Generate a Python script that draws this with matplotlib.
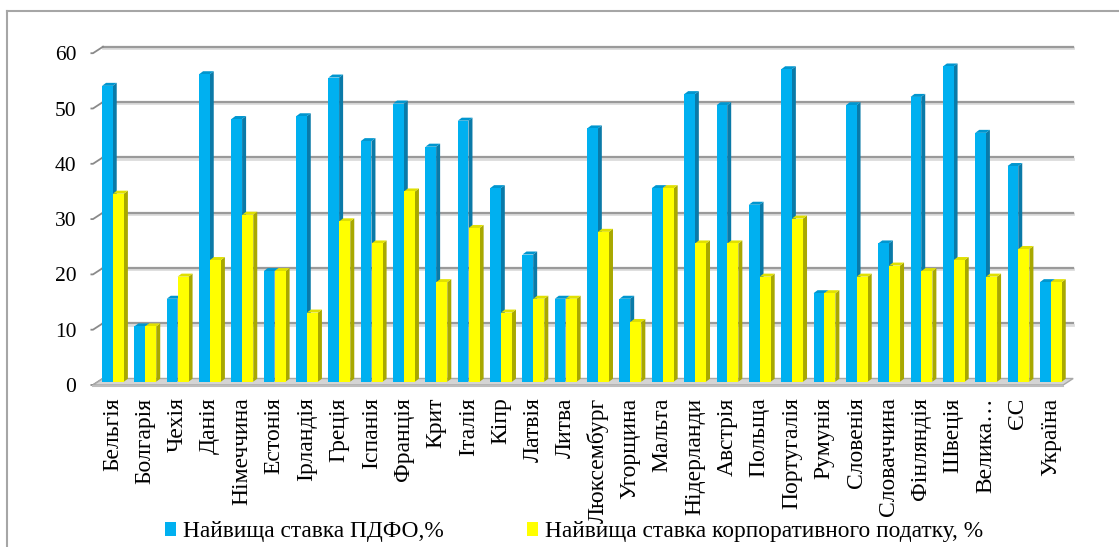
import matplotlib
matplotlib.use("Agg")
import matplotlib.pyplot as plt
from matplotlib.patches import Polygon, Patch
from matplotlib.lines import Line2D

SHRYFT = ['Liberation Serif', 'DejaVu Serif']
plt.rcParams['font.family'] = 'serif'
plt.rcParams['font.serif'] = SHRYFT

# країни та ставки податків
krainy = ['Бельгія', 'Болгарія', 'Чехія', 'Данія', 'Німеччина', 'Естонія',
          'Ірландія', 'Греція', 'Іспанія', 'Франція', 'Крит', 'Італія', 'Кіпр',
          'Латвія', 'Литва', 'Люксембург', 'Угорщина', 'Мальта', 'Нідерланди',
          'Австрія', 'Польща', 'Португалія', 'Румунія', 'Словенія',
          'Словаччина', 'Фінляндія', 'Швеція', 'Велика…', 'ЄС', 'Україна']
pdfo = [53.5, 10, 15, 55.6, 47.5, 20, 48, 55, 43.5, 50.3, 42.5, 47.2, 35,
        23, 15, 45.8, 15, 35, 52, 50, 32, 56.5, 16, 50, 25, 51.5, 57, 45, 39, 18]
korp = [34, 10, 19, 22, 30.2, 20, 12.5, 29, 25, 34.4, 18, 27.8, 12.5,
        15, 15, 27.1, 10.8, 35, 25, 25, 19, 29.5, 16, 19, 21, 20, 22, 19, 24, 18]
yticks = [0, 10, 20, 30, 40, 50, 60]
nazvy = ['Найвища ставка ПДФО,%', 'Найвища ставка корпоративного податку, %']

# кольори граней стовпців: перед, бік, верх
sinij = ('#00b0f0', '#0a7aa8', '#0096cf')
zhovtyj = ('#ffff00', '#a8a800', '#e0e000')

W, H = 1119, 547
fig = plt.figure(figsize=(W / 100, H / 100), dpi=100)
ax = fig.add_axes([93 / W, (H - 385) / H, (1080 - 93) / W, (385 - 40) / H])

px_x = 32.34          # пікселів на одну категорію
px_y = 5.53           # пікселів на одиницю
ax.set_xlim(-0.5, -0.5 + (1080 - 93) / px_x)
ax.set_ylim(0, 345 / px_y)

# глибина задньої стінки та стовпців
wall_dx, wall_dy = 10 / px_x, 6.5 / px_y
bar_dx, bar_dy = 4 / px_x, 3 / px_y
bar_y0 = 3.3 / px_y
n = len(krainy)
x = list(range(n))

# підлога
x0, x1 = -0.5, n - 0.5
ax.add_patch(Polygon([(x0, 0), (x1, 0), (x1 + wall_dx, wall_dy), (x0 + wall_dx, wall_dy)],
                     closed=True, facecolor='#d4d4d4', edgecolor='#a8a8a8', lw=1, zorder=1))
ax.plot([x0, x1], [-0.15, -0.15], color='#bdbdbd', lw=1.5, zorder=1, clip_on=False)

# лінії сітки на задній стінці і косі засічки
for v in yticks:
    if v > 0:
        ax.plot([x0 + wall_dx, x1 + wall_dx], [v + wall_dy - 0.25, v + wall_dy - 0.25],
                color='#dcdcdc', lw=2, zorder=0.5)
        ax.plot([x0 + wall_dx, x1 + wall_dx], [v + wall_dy, v + wall_dy],
                color='#9a9a9a', lw=1.6, zorder=0.6)
    ax.plot([x0 - 0.05, x0, x0 + wall_dx], [v, v, v + wall_dy],
            color='#8a8a8a', lw=1.3, zorder=0.6, clip_on=False)


def stovpci(pos, vals, width, kolory, z):
    bars = ax.bar(pos, vals, width=width, bottom=bar_y0, align='edge',
                  color=kolory[0], edgecolor='none', zorder=z)
    for r in bars:
        bx, by = r.get_x(), r.get_y()
        bw, bh = r.get_width(), r.get_height()
        # бічна грань
        ax.add_patch(Polygon([(bx + bw, by), (bx + bw + bar_dx, by + bar_dy),
                              (bx + bw + bar_dx, by + bh + bar_dy), (bx + bw, by + bh)],
                             closed=True, facecolor=kolory[1], edgecolor='none', zorder=z - 0.1))
        # верхня грань
        ax.add_patch(Polygon([(bx, by + bh), (bx + bw, by + bh),
                              (bx + bw + bar_dx, by + bh + bar_dy), (bx + bar_dx, by + bh + bar_dy)],
                             closed=True, facecolor=kolory[2], edgecolor='none', zorder=z - 0.1))
    return bars


# жовтий стовпець перекриває бічну грань синього
stovpci([i - 0.22 for i in x], pdfo, 0.33, sinij, 3)
stovpci([i + 0.115 for i in x], korp, 0.34, zhovtyj, 3.5)

ax.set_yticks(yticks)
ax.set_yticklabels([str(v) for v in yticks], fontsize=15.5, family=SHRYFT)
ax.set_xticks([i + 0.1 for i in x])
ax.set_xticklabels(krainy, rotation=90, fontsize=17, va='top', ha='center', family=SHRYFT)
ax.tick_params(axis='y', length=0, pad=12)
ax.tick_params(axis='x', length=0, pad=9)
for s in ax.spines.values():
    s.set_visible(False)

# легенда
ruchky = [Patch(facecolor=sinij[0], edgecolor='none'),
          Patch(facecolor=zhovtyj[0], edgecolor='none')]
fig.legend(ruchky, nazvy, loc='center', bbox_to_anchor=(0.513, (H - 532) / H),
           ncol=2, frameon=False, prop={'family': SHRYFT, 'size': 16.8},
           handlelength=0.45, handleheight=0.55,
           handletextpad=0.3, columnspacing=3.6, borderaxespad=0)

# рамка області діаграми
fig.add_artist(Line2D([7 / W, 7 / W], [0, (H - 11) / H], color='#a6a6a6', lw=1.5))
fig.add_artist(Line2D([7 / W, 1], [(H - 11) / H, (H - 11) / H], color='#a6a6a6', lw=1.5))

fig.savefig('out.png', dpi=100)
